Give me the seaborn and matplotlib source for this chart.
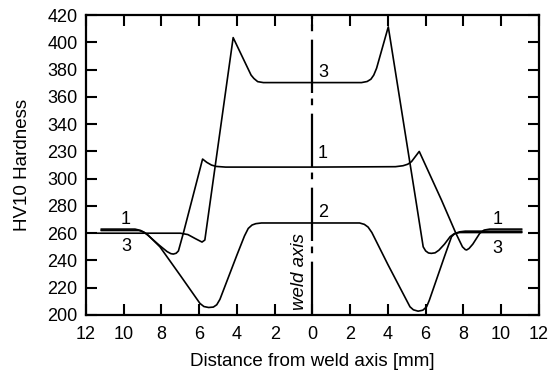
import numpy as np
import pandas as pd
import matplotlib
matplotlib.use("Agg")
import matplotlib.pyplot as plt
import seaborn as sns

# hardness profiles (negative x = left of weld axis)
x1 = [-11.2, -9.4, -9.1, -8.8, -8.1, -7.7, -7.5, -7.37, -7.22, -7.1, -6.84, -5.82, -5.6, -5.35, -5.1,
      -4.6, 0.0, 4.4, 4.8, 5.05, 5.25, 5.66, 6.84, 7.6, 7.95, 8.1, 8.17, 8.3, 8.5, 8.87, 9.1,
      9.4, 11.1]
y1 = [263, 263, 262, 259.5, 251, 246.5, 245, 244.7, 245.3, 247, 260, 314.4, 312, 310, 309,
      308.5, 308.5, 308.8, 309.5, 310.6, 312.5, 320, 284.3, 260, 250, 248, 247.7, 248.8, 252, 260, 262.3,
      263, 263]

x2 = [-11.2, -9.2, -8.95, -8.7, -8.08, -7.0, -5.96, -5.75, -5.5, -5.25, -5.07, -4.9, -4.0, -3.6,
      -3.4, -3.2, -3.0, -2.7, 0.0, 2.5, 2.75, 2.95, 3.15, 4.0, 5.17, 5.35, 5.6, 5.85, 6.05,
      6.2, 7.0, 7.37, 7.55, 7.8, 8.1, 11.1]
y2 = [262, 262, 261, 258.5, 250, 229, 208.5, 206.2, 205.5, 205.8, 207.5, 211.5, 244, 258,
      263.5, 266, 267, 267.5, 267.5, 267.5, 266.5, 264.5, 260.5, 237, 206, 203.8, 202.8, 203.5, 206,
      211, 243, 257.4, 259.8, 261, 261.5, 261.5]

x3 = [-11.4, -7.0, -6.6, -6.2, -5.85, -5.7, -4.2, -3.7, -3.25, -3.1, -2.9, -2.6, 0.0,
      2.6, 2.9, 3.1, 3.25, 3.4, 4.02, 5.48, 5.87, 6.0, 6.15, 6.3, 6.5, 6.7, 7.0, 7.3, 7.5,
      7.8, 11.1]
y3 = [260, 260, 259, 256, 253.5, 255, 403.5, 389, 376, 373.5, 371.2, 370.5, 370.5,
      370.5, 371.3, 373, 376, 381, 411.4, 284.3, 250, 247, 245.5, 245.2, 245.6, 247.5, 252, 257.5, 259.5,
      260.5, 260.5]

xticks = list(range(-12, 13, 2))
xticklabels = [str(abs(v)) for v in xticks]
yticks = list(range(200, 421, 20))
yticklabels = ["200", "220", "240", "260", "280", "300", "230", "340", "360", "380", "400", "420"]

curve_labels = [("3", 0.3, 378), ("1", 0.3, 318.5), ("2", 0.3, 275.5),
                ("1", -10.15, 270.2), ("3", -10.15, 250), ("1", 9.55, 270.2), ("3", 9.55, 249)]

sns.set_style("ticks")
plt.rcParams["font.family"] = ["Liberation Sans", "DejaVu Sans"]
plt.rcParams.update({"text.color": "black", "axes.labelcolor": "black",
                     "xtick.color": "black", "ytick.color": "black",
                     "axes.edgecolor": "black"})

fig = plt.figure(figsize=(5.51, 3.78), dpi=100)
ax = fig.add_axes([0.156, 0.1667, 0.822, 0.7933])

for xs, ys in [(x1, y1), (x2, y2), (x3, y3)]:
    df = pd.DataFrame({"x": xs, "y": ys})
    sns.lineplot(data=df, x="x", y="y", sort=False, estimator=None,
                 color="black", lw=1.2, ax=ax)

# weld axis (dash-dot)
ax.axvline(0, color="black", lw=1.6, linestyle=(0, (24, 3.8, 3.0, 2.5)))
ax.text(-0.68, 203.5, "weld axis", rotation=90, style="italic", fontsize=13.5,
        ha="center", va="bottom")

for txt, tx, ty in curve_labels:
    ax.text(tx, ty, txt, fontsize=13, ha="left", va="center")

ax.set_xlim(-12, 12)
ax.set_ylim(200, 420)
ax.set_xticks(xticks)
ax.set_xticklabels(xticklabels)
ax.set_yticks(yticks)
ax.set_yticklabels(yticklabels)
ax.tick_params(direction="in", length=8, width=1.5, labelsize=13, top=True, right=True)
ax.tick_params(axis="x", pad=8)
ax.tick_params(axis="y", pad=6)
for s in ax.spines.values():
    s.set_linewidth(1.6)

ax.set_xlabel("Distance from weld axis [mm]", fontsize=13.5, labelpad=7)
ax.set_ylabel("HV10 Hardness", fontsize=13.5, labelpad=12)

fig.savefig("out.png", dpi=100)
